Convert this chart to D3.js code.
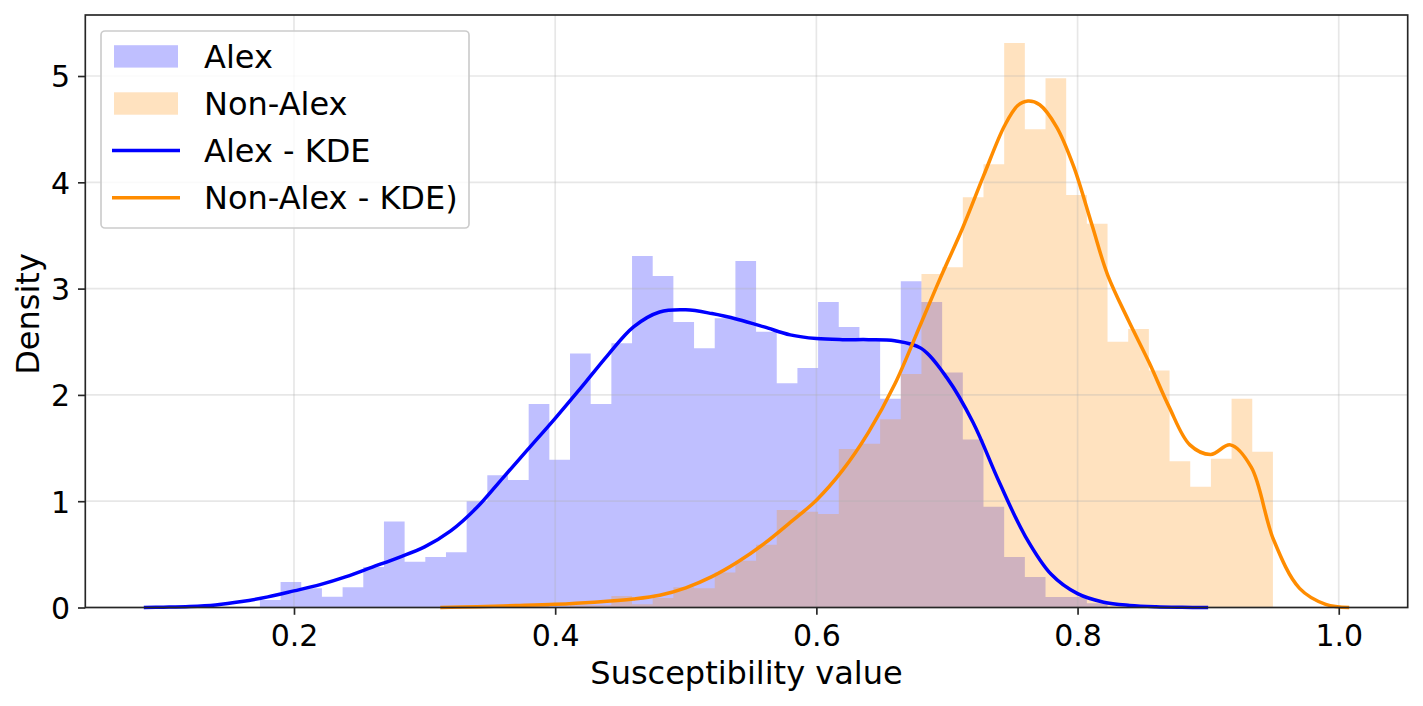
<!DOCTYPE html>
<html lang="en">
<head>
    <meta charset="UTF-8">
    <title>Susceptibility Density</title>
    <script src="https://d3js.org/d3.v7.min.js"></script>
    <style>
        body {
            margin: 0;
            background: white;
            font-family: 'DejaVu Sans', sans-serif;
        }

        .tick text {
            font-family: 'DejaVu Sans', sans-serif;
            font-size: 30px;
            fill: black;
        }

        .tick line {
            stroke: #262626;
            stroke-width: 1.67px;
        }

        .grid line {
            stroke: #b0b0b0;
            stroke-opacity: 0.3;
            stroke-width: 1.67px;
        }

        .kde {
            fill: none;
            stroke-width: 3.5px;
            stroke-linejoin: round;
        }
    </style>
</head>
<body>
    <div id="chart"></div>

    <script>
        // Histogram bins (shared edges)
        const binLo = 0.1739;
        const binHi = 0.9496;
        const binCount = 49;

        // Density per bin, index 0 = leftmost bin
        const alexDensity = [
            0.07, 0.24, 0.18, 0.10, 0.19, 0.38, 0.81, 0.43, 0.475, 0.52,
            1.00, 1.245, 1.20, 1.915, 1.39, 2.39, 1.915, 2.485, 3.307, 3.118,
            2.686, 2.44, 2.72, 3.26, 2.595, 2.11, 2.253, 2.874, 2.64, 2.526,
            1.965, 3.07, 2.874, 2.21, 1.58, 0.947, 0.475, 0.287, 0.099, 0.099,
            0.04, 0, 0, 0, 0, 0, 0, 0, 0
        ];

        const nonAlexDensity = [
            0, 0, 0, 0, 0, 0, 0, 0, 0, 0,
            0, 0, 0, 0.02, 0, 0.02, 0.02, 0.108, 0.03, 0.09,
            0.19, 0.18, 0.33, 0.44, 0.59, 0.917, 0.90, 0.88, 1.49, 1.54,
            1.77, 2.196, 3.137, 3.20, 3.86, 4.17, 5.31, 4.50, 4.98, 3.88,
            3.61, 2.50, 2.62, 2.23, 1.376, 1.135, 1.40, 1.965, 1.465
        ];

        // KDE curves
        const alexKdeX = [
            0.085, 0.10, 0.12, 0.14, 0.16, 0.18, 0.20, 0.22, 0.24, 0.26,
            0.28, 0.30, 0.32, 0.34, 0.36, 0.38, 0.40, 0.42, 0.44, 0.46,
            0.48, 0.50, 0.52, 0.54, 0.56, 0.58, 0.60, 0.62, 0.64, 0.66,
            0.68, 0.70, 0.72, 0.74, 0.76, 0.78, 0.80, 0.82, 0.84, 0.86,
            0.88, 0.90
        ];
        const alexKdeY = [
            0.0, 0.003, 0.009, 0.024, 0.056, 0.10, 0.156, 0.215, 0.29, 0.38,
            0.47, 0.57, 0.72, 0.94, 1.22, 1.50, 1.78, 2.07, 2.37, 2.64,
            2.78, 2.80, 2.765, 2.71, 2.64, 2.565, 2.53, 2.52, 2.52, 2.51,
            2.44, 2.16, 1.74, 1.18, 0.67, 0.31, 0.13, 0.05, 0.02, 0.007,
            0.002, 0.0
        ];

        const nonAlexKdeX = [
            0.312, 0.34, 0.37, 0.40, 0.43, 0.46, 0.48, 0.50, 0.52, 0.54,
            0.56, 0.58, 0.60, 0.62, 0.64, 0.66, 0.68, 0.696, 0.712, 0.728,
            0.744, 0.754, 0.762, 0.771, 0.784, 0.797, 0.811, 0.823, 0.839, 0.855,
            0.870, 0.886, 0.902, 0.917, 0.933, 0.950, 0.970, 0.99, 1.008
        ];
        const nonAlexKdeY = [
            0.0, 0.008, 0.018, 0.03, 0.05, 0.08, 0.115, 0.185, 0.29, 0.43,
            0.60, 0.80, 1.01, 1.29, 1.65, 2.10, 2.67, 3.13, 3.57, 4.06,
            4.53, 4.72, 4.765, 4.73, 4.52, 4.15, 3.60, 3.13, 2.70, 2.30,
            1.89, 1.53, 1.44, 1.53, 1.32, 0.64, 0.18, 0.03, 0.0
        ];

        const xTicks = [0.2, 0.4, 0.6, 0.8, 1.0];
        const yTicks = [0, 1, 2, 3, 4, 5];

        const legendData = [
            {label: "Alex", kind: "patch", color: "blue"},
            {label: "Non-Alex", kind: "patch", color: "darkorange"},
            {label: "Alex - KDE", kind: "line", color: "#0000ff"},
            {label: "Non-Alex - KDE)", kind: "line", color: "#ff8c00"}
        ];

        // Dimensions
        const totalWidth = 1423, totalHeight = 706;
        const margin = {top: 15, right: 15.3, bottom: 98.5, left: 85.3};
        const width = totalWidth - margin.left - margin.right;
        const height = totalHeight - margin.top - margin.bottom;

        const svg = d3.select("#chart")
            .append("svg")
            .attr("width", totalWidth)
            .attr("height", totalHeight)
            .append("g")
            .attr("transform", `translate(${margin.left},${margin.top})`);

        // Scales
        const xScale = d3.scaleLinear()
            .domain([0.0402, 1.0528])
            .range([0, width]);

        const yScale = d3.scaleLinear()
            .domain([0, 5.574])
            .range([height, 0]);

        const binWidth = (binHi - binLo) / binCount;
        const binEdge = i => binLo + i * binWidth;

        // Histogram as one stepped area per series (no seams between bars)
        const histArea = d3.area()
            .curve(d3.curveStepAfter)
            .x(d => xScale(d.x))
            .y0(yScale(0))
            .y1(d => yScale(d.y));

        const drawHist = (values, color) => {
            const pts = values.map((v, i) => ({x: binEdge(i), y: v}));
            pts.push({x: binEdge(values.length), y: 0});
            svg.append("path")
                .datum(pts)
                .attr("d", histArea)
                .attr("fill", color)
                .attr("fill-opacity", 0.25);
        };

        drawHist(alexDensity, "blue");
        drawHist(nonAlexDensity, "darkorange");

        // Grid (above bars, below lines)
        const grid = svg.append("g").attr("class", "grid");
        grid.selectAll(".gx")
            .data(xTicks)
            .enter()
            .append("line")
            .attr("x1", d => xScale(d))
            .attr("x2", d => xScale(d))
            .attr("y1", 0)
            .attr("y2", height);
        grid.selectAll(".gy")
            .data(yTicks)
            .enter()
            .append("line")
            .attr("x1", 0)
            .attr("x2", width)
            .attr("y1", d => yScale(d))
            .attr("y2", d => yScale(d));

        // KDE lines
        const kdeLine = d3.line()
            .curve(d3.curveCatmullRom.alpha(0.5))
            .x(d => xScale(d[0]))
            .y(d => yScale(Math.max(0, d[1])));

        svg.append("path")
            .datum(d3.zip(alexKdeX, alexKdeY))
            .attr("class", "kde")
            .attr("stroke", "#0000ff")
            .attr("d", kdeLine);

        svg.append("path")
            .datum(d3.zip(nonAlexKdeX, nonAlexKdeY))
            .attr("class", "kde")
            .attr("stroke", "#ff8c00")
            .attr("d", kdeLine);

        // Axes
        const xAxis = svg.append("g")
            .attr("transform", `translate(0,${height})`)
            .call(d3.axisBottom(xScale)
                .tickValues(xTicks)
                .tickFormat(d3.format(".1f"))
                .tickSize(7.3)
                .tickSizeOuter(0)
                .tickPadding(9.6));
        xAxis.select(".domain").remove();

        const yAxis = svg.append("g")
            .call(d3.axisLeft(yScale)
                .tickValues(yTicks)
                .tickFormat(d3.format("d"))
                .tickSize(7.3)
                .tickSizeOuter(0)
                .tickPadding(8));
        yAxis.select(".domain").remove();
        yAxis.selectAll(".tick text").attr("dy", "0.36em");

        // Spines
        svg.append("rect")
            .attr("width", width)
            .attr("height", height)
            .attr("fill", "none")
            .attr("stroke", "#262626")
            .attr("stroke-width", 1.67);

        // Axis labels
        svg.append("text")
            .attr("x", width / 2)
            .attr("y", 684 - margin.top)
            .attr("text-anchor", "middle")
            .attr("font-size", "32px")
            .text("Susceptibility value");

        svg.append("text")
            .attr("transform", `translate(${38.5 - margin.left},${314 - margin.top}) rotate(-90)`)
            .attr("text-anchor", "middle")
            .attr("font-size", "32px")
            .text("Density");

        // Legend
        const legend = svg.append("g")
            .attr("transform", `translate(${101 - margin.left},${31 - margin.top})`);

        legend.append("rect")
            .attr("width", 368)
            .attr("height", 197)
            .attr("rx", 4)
            .attr("fill", "white")
            .attr("fill-opacity", 0.8)
            .attr("stroke", "#cccccc")
            .attr("stroke-width", 1.67);

        const legendItems = legend.selectAll(".legend-item")
            .data(legendData)
            .enter()
            .append("g")
            .attr("class", "legend-item")
            .attr("transform", (d, i) => `translate(0, ${25.4 + i * 47.1})`);

        legendItems.filter(d => d.kind === "patch")
            .append("rect")
            .attr("x", 13)
            .attr("y", -11.2)
            .attr("width", 64)
            .attr("height", 22.4)
            .attr("fill", d => d.color)
            .attr("fill-opacity", 0.25);

        legendItems.filter(d => d.kind === "line")
            .append("line")
            .attr("x1", 11)
            .attr("x2", 79)
            .attr("stroke", d => d.color)
            .attr("stroke-width", 3.5);

        legendItems.append("text")
            .attr("x", 103)
            .attr("y", 11.4)
            .attr("font-size", "32px")
            .text(d => d.label);
    </script>
</body>
</html>
